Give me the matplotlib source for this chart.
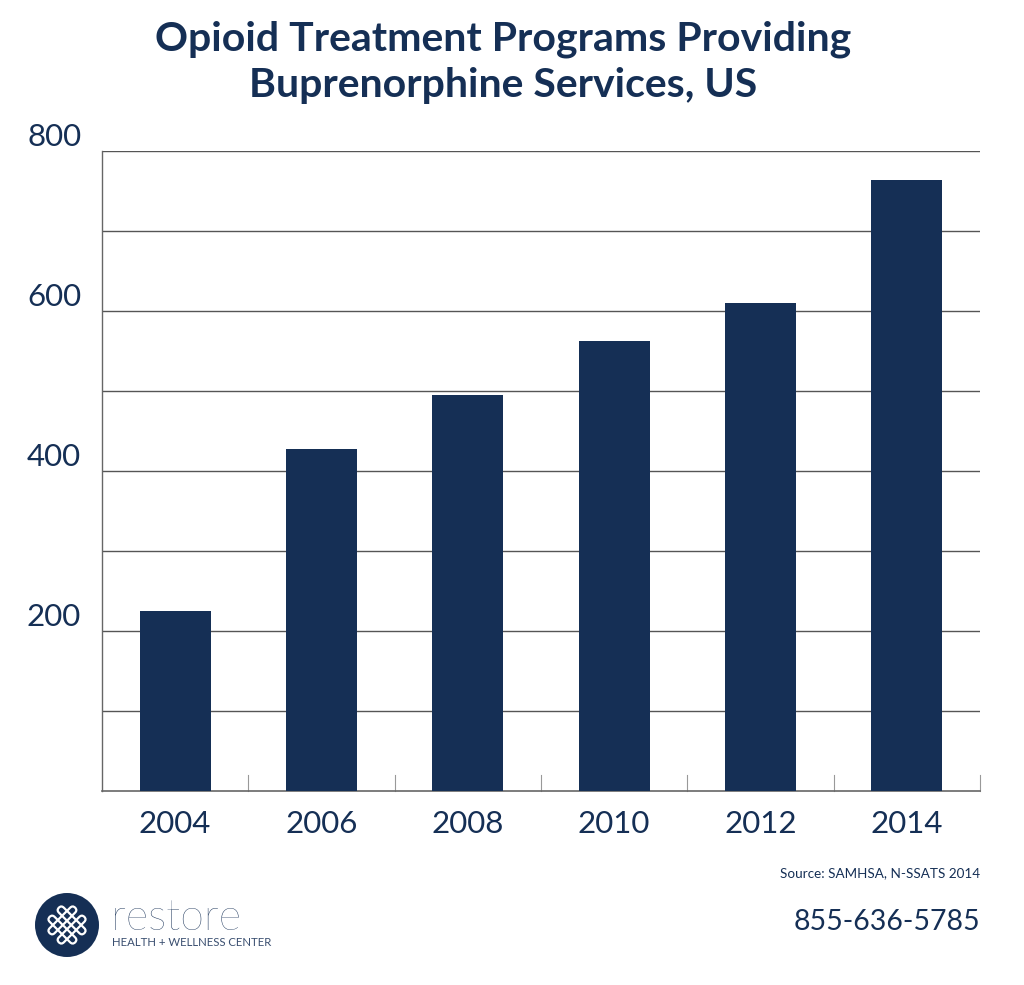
import matplotlib
matplotlib.use('Agg')
import matplotlib.pyplot as plt
from matplotlib.patches import Circle, FancyBboxPatch
from matplotlib.transforms import Affine2D

W, H = 1024, 985
NAVY = '#152f55'

years = ['2004', '2006', '2008', '2010', '2012', '2014']
programs = [225, 428, 495, 562, 610, 764]
y_labels = ['', '200', '', '400', '', '600', '', '800']
y_ticks = [100, 200, 300, 400, 500, 600, 700, 800]

plt.rcParams['font.family'] = ['Lato', 'DejaVu Sans']

fig = plt.figure(figsize=(W / 100, H / 100), dpi=100)
ax = fig.add_axes([102 / W, 1 - 791 / H, 878 / W, 640 / H])

# bars
xs = list(range(len(years)))
ax.bar(xs, programs, width=0.483, color=NAVY, zorder=3)
ax.set_xlim(-0.5, 5.5)
ax.set_ylim(0, 800)
ax.set_xticks(xs)
ax.set_xticklabels(years)
ax.set_yticks(y_ticks)
ax.set_yticklabels(y_labels)
ax.tick_params(axis='x', length=0, pad=14, labelsize=22.5, labelcolor=NAVY)
ax.tick_params(axis='y', length=0, pad=15, labelsize=22.5, labelcolor=NAVY)
for lab in ax.get_yticklabels():
    lab.set_va('bottom')

ax.yaxis.grid(True, color='#555555', lw=1.0, zorder=1)
ax.set_axisbelow(True)
for s in ['top', 'right']:
    ax.spines[s].set_visible(False)
ax.spines['left'].set_color('#666666')
ax.spines['bottom'].set_color('#666666')
ax.spines['left'].set_linewidth(1.0)
ax.spines['bottom'].set_linewidth(1.2)

# small dividers between the years
for i in range(len(years)):
    ax.plot([i + 0.5, i + 0.5], [0, 20], color='#999999', lw=0.8, zorder=2, clip_on=False)

# title
fig.text(503 / W, 1 - 39 / H, 'Opioid Treatment Programs Providing', ha='center', va='center',
         fontsize=29.5, fontweight='bold', color=NAVY)
fig.text(503 / W, 1 - 86 / H, 'Buprenorphine Services, US', ha='center', va='center',
         fontsize=29.5, fontweight='bold', color=NAVY)

# footer
fig.text(980 / W, 1 - 873 / H, 'Source: SAMHSA, N-SSATS 2014', ha='right', va='center',
         fontsize=9.7, color=NAVY)
fig.text(980 / W, 1 - 922 / H, '855-636-5785', ha='right', va='center',
         fontsize=20.5, color=NAVY)

# logo, pixel coordinates
lg = fig.add_axes([0, 0, 1, 1], facecolor='none')
lg.set_xlim(0, W)
lg.set_ylim(H, 0)
lg.axis('off')
lg.add_patch(Circle((67, 925), 32, color=NAVY, lw=0))
for ang in (45, -45):
    t = Affine2D().rotate_deg_around(67, 925, ang) + lg.transData
    for dy in (-6.5, 6.5):
        lg.add_patch(FancyBboxPatch((67 - 18, 925 + dy - 3.5), 36, 7,
                                    boxstyle='round,pad=0,rounding_size=3.5',
                                    fc='none', ec='white', lw=1.6, transform=t))
lg.text(111, 918, 'restore', ha='left', va='center', fontsize=31, fontweight='light',
        color=NAVY)
lg.text(112, 942, 'HEALTH + WELLNESS CENTER', ha='left', va='center', fontsize=8.2,
        color='#3a4f70')

fig.savefig('out.png', dpi=100, facecolor='white')
